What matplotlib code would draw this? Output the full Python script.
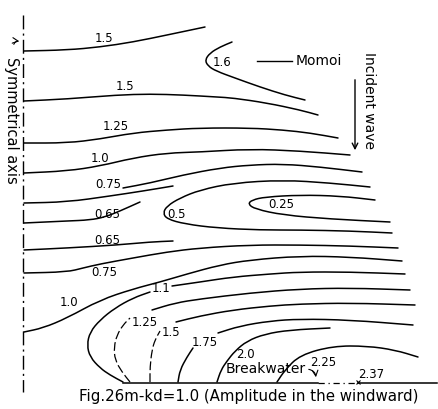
import numpy as np
import matplotlib.pyplot as plt
from matplotlib.path import Path
from matplotlib.patches import PathPatch

# contour lines (x to the right, y downwards, image units)
c150_top = [(24, 51), (67, 50), (100, 47), (133, 42), (167, 35), (205, 27)]
c160 = [(232, 42), (220, 47), (210, 53), (205, 60), (208, 66), (216, 71), (235, 78),
        (260, 87), (285, 95), (305, 100)]
c150 = [(24, 101), (67, 99), (117, 95), (150, 94), (183, 95), (217, 97), (233, 98),
        (267, 103), (300, 110), (318, 115)]
c125_top = [(24, 143), (67, 143), (100, 139), (133, 133), (167, 130), (200, 128),
            (250, 128), (283, 130), (310, 133), (338, 138)]
c100_top = [(24, 173), (67, 171), (100, 166), (133, 158), (167, 153), (200, 152),
            (250, 149), (300, 151), (350, 155)]
c075_left = [(24, 203), (67, 202), (110, 196), (143, 191), (173, 186)]
c075_right = [(123, 188), (150, 183), (183, 175), (220, 168), (250, 165), (283, 164),
              (320, 167), (362, 172)]
c065_top = [(24, 223), (67, 221), (90, 220), (105, 217), (120, 211), (140, 202)]
c050 = [(370, 187), (330, 183), (283, 180), (233, 183), (200, 190), (180, 198),
        (167, 206), (163, 213), (167, 219), (185, 224), (217, 228), (260, 230),
        (300, 230), (350, 231), (392, 233)]
c025 = [(375, 200), (340, 196), (300, 195), (265, 197), (252, 200), (248, 204),
        (255, 209), (283, 215), (330, 219), (390, 222)]
c065_low = [(24, 250), (67, 248), (117, 245), (150, 242), (173, 241)]
c075_low = [(24, 273), (67, 272), (83, 268), (100, 264), (133, 258), (167, 252),
            (200, 248), (250, 245), (300, 245), (350, 246), (398, 248)]
c100_low = [(24, 332), (43, 328), (67, 318), (100, 300), (133, 289), (160, 282),
            (187, 274), (220, 265), (250, 260), (300, 256), (350, 257), (402, 261)]
c110_a = [(123, 382), (110, 375), (100, 368), (90, 357), (87, 345), (90, 332),
          (100, 320), (115, 308), (133, 298), (150, 292)]
c110_b = [(172, 286), (200, 282), (233, 277), (270, 274), (300, 272), (350, 272),
          (405, 274)]
c125_a = [(130, 382), (122, 372), (115, 360), (114, 347), (117, 335), (123, 325),
          (130, 318)]
c125_b = [(152, 310), (175, 303), (200, 299), (250, 293), (300, 289), (350, 288),
          (410, 290)]
c150_a = [(150, 382), (150, 367), (152, 350), (155, 340), (160, 331)]
c150_b = [(176, 322), (200, 316), (233, 310), (270, 306), (300, 304), (350, 303),
          (415, 305)]
c175_a = [(178, 382), (180, 370), (187, 357), (193, 348)]
c175_b = [(218, 333), (240, 326), (270, 321), (300, 319), (350, 320), (413, 325)]
c200 = [(217, 382), (221, 370), (227, 361), (235, 351), (247, 341), (265, 334),
        (290, 330), (330, 328)]
c225 = [(277, 382), (285, 370), (300, 355), (333, 346), (367, 346), (395, 350),
        (418, 357)]

solid_lines = [c150_top, c160, c150, c125_top, c100_top, c075_left, c075_right,
               c065_top, c050, c025, c065_low, c075_low, c100_low, c110_a, c110_b,
               c125_b, c150_b, c175_a, c175_b, c200, c225]
# lower parts of 1.25 and 1.5 come out broken in the scan
broken_lines = [c125_a, c150_a]

label_text = ['1.5', '1.6', '1.5', '1.25', '1.0', '0.75', '0.65', '0.5', '0.25',
              '0.65', '0.75', '1.0', '1.1', '1.25', '1.5', '1.75', '2.0', '2.25', '2.37']
label_x = [104, 222, 125, 116, 100, 108, 107, 177, 281, 107, 104, 69, 161, 145, 171,
           205, 245, 323, 371]
label_y = [38, 62, 87, 127, 158, 184, 215, 214, 205, 240, 272, 303, 288, 322, 332,
           343, 354, 362, 375]

breakwater_x = [123, 318, 358, 437]
breakwater_y = 383
axis_x = 23


def smooth_path(pts):
    # quadratic bezier through the midpoints of the read points
    verts = [pts[0]]
    codes = [Path.MOVETO]
    mids = [((pts[i][0] + pts[i + 1][0]) / 2, (pts[i][1] + pts[i + 1][1]) / 2)
            for i in range(len(pts) - 1)]
    verts.append(mids[0])
    codes.append(Path.LINETO)
    for i in range(1, len(pts) - 1):
        verts += [pts[i], mids[i]]
        codes += [Path.CURVE3, Path.CURVE3]
    verts.append(pts[-1])
    codes.append(Path.LINETO)
    return Path(verts, codes)


fig = plt.figure(figsize=(4.38, 4.09), dpi=100)
ax = fig.add_axes([0, 0, 1, 1])
ax.set_xlim(0, 438)
ax.set_ylim(409, 0)
ax.axis('off')

for line in solid_lines:
    ax.add_patch(PathPatch(smooth_path(line), fill=False, lw=1.1, color='black',
                           capstyle='round'))
for line in broken_lines:
    ax.add_patch(PathPatch(smooth_path(line), fill=False, lw=0.9, color='black',
                           ls=(0, (7, 2.5))))

for t, x, y in zip(label_text, label_x, label_y):
    ax.text(x, y, t, fontsize=8.5, ha='center', va='center')

# symmetrical axis
ax.plot([axis_x, axis_x], [15, 392], color='black', lw=1.0, ls=(0, (10, 3, 1.5, 3)))
ax.annotate('', xy=(22, 42), xytext=(13, 47),
            arrowprops=dict(arrowstyle='->', lw=0.8, connectionstyle='arc3,rad=-0.6'))
ax.text(11, 120, 'Symmetrical axis', rotation=-90, fontsize=10.5, ha='center', va='center')

# breakwater
ax.plot(breakwater_x[:2], [breakwater_y] * 2, color='black', lw=1.1)
ax.plot(breakwater_x[1:3], [breakwater_y] * 2, color='black', lw=0.9, ls=(0, (5, 3, 1, 3)))
ax.plot(breakwater_x[2:], [breakwater_y] * 2, color='black', lw=1.1)
ax.plot([358], [382], marker='x', color='black', ms=3, mew=0.8)
ax.text(266, 369, 'Breakwater', fontsize=10, ha='center', va='center')
ax.annotate('', xy=(316, 380), xytext=(306, 369),
            arrowprops=dict(arrowstyle='->', lw=0.8, connectionstyle='arc3,rad=-0.5'))

# Momoi
ax.plot([257, 292], [61, 61], color='black', lw=1.0)
ax.text(296, 61, 'Momoi', fontsize=10, ha='left', va='center')

# incident wave
ax.text(369, 100, 'Incident wave', rotation=-90, fontsize=10, ha='center', va='center')
ax.annotate('', xy=(355, 153), xytext=(355, 77),
            arrowprops=dict(arrowstyle='->', lw=1.0))

ax.text(249, 397, 'Fig.26m-kd=1.0 (Amplitude in the windward)', fontsize=10.8,
        ha='center', va='center')

fig.savefig('out.png', dpi=100)
